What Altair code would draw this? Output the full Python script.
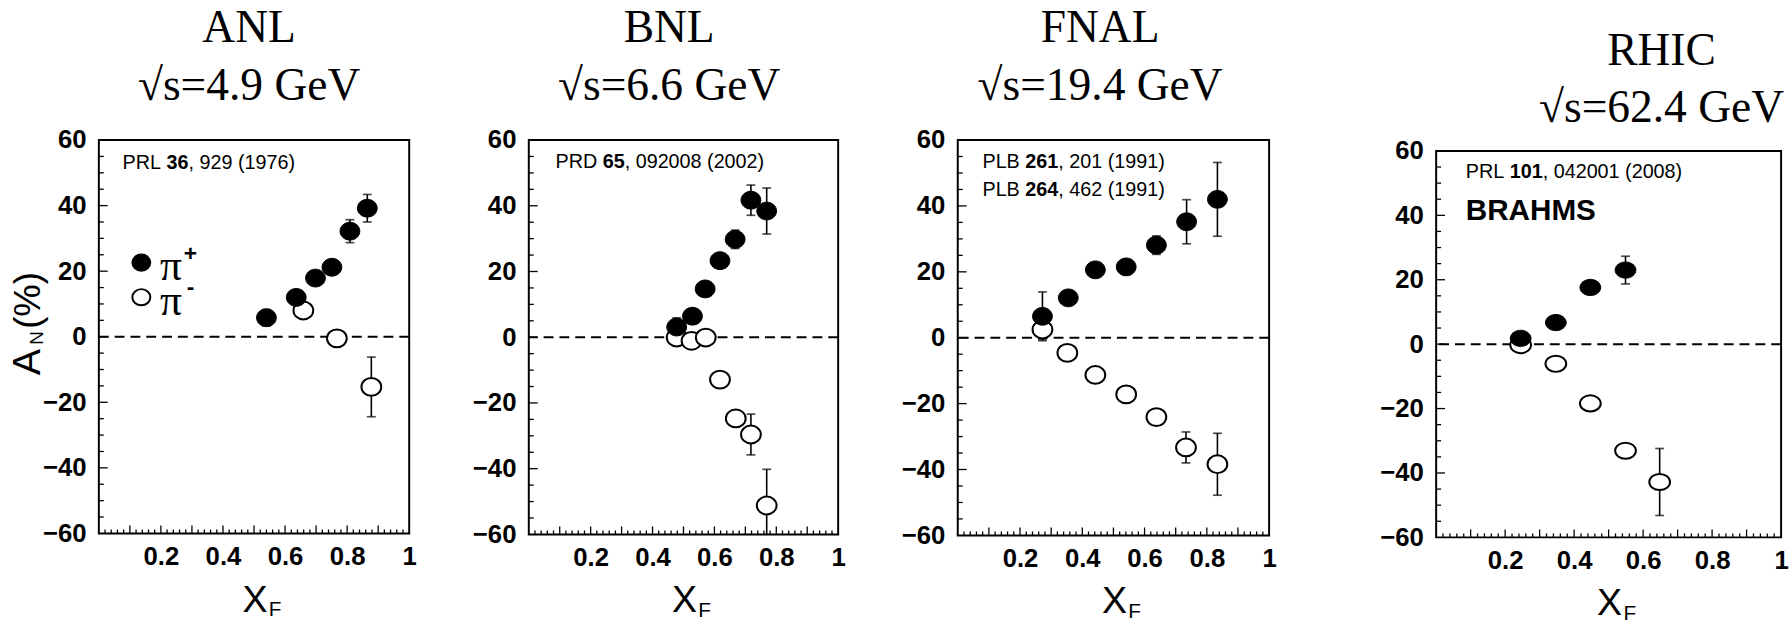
import altair as alt
import pandas as pd

# ---------------- data ----------------
# ANL  sqrt(s)=4.9 GeV
anl_pip_x = [0.540, 0.636, 0.698, 0.751, 0.809, 0.865]
anl_pip_y = [5.8, 12.0, 17.9, 21.2, 32.2, 39.2]
anl_pip_e = [2.5, 1.5, 1.5, 1.5, 3.5, 4.2]
anl_pim_x = [0.659, 0.767, 0.878]
anl_pim_y = [8.0, -0.5, -15.3]
anl_pim_e = [1.5, 1.5, 9.1]

# BNL  sqrt(s)=6.6 GeV
bnl_pip_x = [0.478, 0.529, 0.570, 0.618, 0.667, 0.718, 0.769]
bnl_pip_y = [3.1, 6.4, 14.7, 23.3, 29.8, 41.7, 38.4]
bnl_pip_e = [2.8, 1.5, 1.5, 1.5, 2.8, 4.6, 7.0]
bnl_pim_x = [0.478, 0.526, 0.572, 0.618, 0.669, 0.718, 0.769]
bnl_pim_y = [-0.1, -1.1, -0.1, -12.9, -24.7, -29.6, -51.2]
bnl_pim_e = [1.5, 1.5, 1.5, 1.5, 2.0, 6.2, 11.0]

# FNAL sqrt(s)=19.4 GeV
fnal_pip_x = [0.272, 0.355, 0.442, 0.541, 0.638, 0.735, 0.834]
fnal_pip_y = [6.5, 12.1, 20.6, 21.5, 28.1, 35.2, 42.0]
fnal_pip_e = [7.4, 1.5, 1.5, 1.5, 2.8, 6.7, 11.2]
fnal_pim_x = [0.272, 0.352, 0.442, 0.541, 0.638, 0.733, 0.834]
fnal_pim_y = [2.5, -4.6, -11.3, -17.2, -24.1, -33.3, -38.4]
fnal_pim_e = [3.0, 1.5, 1.5, 1.5, 1.5, 4.7, 9.4]

# RHIC (BRAHMS) sqrt(s)=62.4 GeV
rhic_pip_x = [0.245, 0.347, 0.447, 0.549]
rhic_pip_y = [1.8, 6.7, 17.6, 23.0]
rhic_pip_e = [1.5, 1.5, 1.5, 4.3]
rhic_pim_x = [0.245, 0.347, 0.447, 0.549, 0.648]
rhic_pim_y = [-0.3, -6.1, -18.4, -33.1, -42.8]
rhic_pim_e = [1.5, 1.5, 1.5, 1.5, 10.4]

x_labels = [0.2, 0.4, 0.6, 0.8, 1.0]
y_labels = [-60, -40, -20, 0, 20, 40, 60]
y_minor = [-55, -50, -45, -35, -30, -25, -15, -10, -5, 5, 10, 15, 25, 30, 35, 45, 50, 55]
y_major = [-40, -20, 0, 20, 40]
x_minor = [0.02, 0.04, 0.06, 0.08, 0.12, 0.14, 0.16, 0.18, 0.22, 0.24, 0.26, 0.28,
           0.32, 0.34, 0.36, 0.38, 0.42, 0.44, 0.46, 0.48, 0.52, 0.54, 0.56, 0.58,
           0.62, 0.64, 0.66, 0.68, 0.72, 0.74, 0.76, 0.78, 0.82, 0.84, 0.86, 0.88,
           0.92, 0.94, 0.96, 0.98]
x_major = [0.1, 0.2, 0.3, 0.4, 0.5, 0.6, 0.7, 0.8, 0.9]

SANS = "Liberation Sans"
SERIF = "Liberation Serif"
one = pd.DataFrame({"a": [0]})

ARIAL_W = {"P": .667, "R": .722, "L": .556, "D": .722, "B": .667,
           " ": .278, ",": .278, "(": .333, ")": .333}


def tw(s, fs):
    return sum(ARIAL_W.get(c, .556) for c in s) * fs


def ellipse(r):
    return f"M -1 0 A 1 {r} 0 1 0 1 0 A 1 {r} 0 1 0 -1 0 Z"


def text(t, x, y, fs, font=SANS, weight="normal", align="left", baseline="middle", angle=0):
    kw = dict(text=t, font=font, fontSize=fs, fontWeight=weight, align=align,
              baseline=baseline, color="black")
    if angle:
        kw["angle"] = angle
    return alt.Chart(one).mark_text(**kw).encode(x=alt.value(x), y=alt.value(y))


def ref_line(parts, x0, y0, fs=20):
    out = []
    x = x0
    for t, bold in parts:
        lead = len(t) - len(t.lstrip(" "))
        out.append(text(t.strip(), x + lead * .278 * fs, y0, fs,
                        weight="bold" if bold else "normal"))
        x += tw(t, fs)
    return out


ANCHOR_Y = -137


def panel(W, H, ytop, anchor_x, pip, pim, titles, tcx, tby, refs, ratio, msize, extra=()):
    xs = alt.Scale(domain=[0, 1], nice=False, zero=False)
    ys = alt.Scale(domain=[-60, 60], nice=False, zero=False, range=[H, ytop])
    xax = alt.Axis(values=x_labels, ticks=False, domain=False, grid=False,
                   labelExpr="datum.value == 1 ? '1' : format(datum.value, '.1f')",
                   labelFlush=False, labelPadding=10, labelFont=SANS, labelFontSize=26,
                   labelFontWeight="bold", labelColor="black")
    yax = alt.Axis(values=y_labels, ticks=False, domain=False, grid=False,
                   labelPadding=13, labelFont=SANS, labelFontSize=26,
                   labelFontWeight="bold", labelColor="black")

    def X(f):
        return alt.X(f, type="quantitative", scale=xs, axis=xax, title=None)

    def Y(f):
        return alt.Y(f, type="quantitative", scale=ys, axis=yax, title=None)

    rows = []
    for (xv, yv, ev), kind in ((pip, "p"), (pim, "m")):
        for a, b, e in zip(xv, yv, ev):
            rows.append({"x": a, "y": b, "lo": max(b - e, -60), "hi": min(b + e, 60), "k": kind})
    df = pd.DataFrame(rows)
    caps = pd.concat([df[["x", "k"]].assign(c=df["lo"]), df[["x", "k"]].assign(c=df["hi"])])
    caps = caps[caps.c > -60]

    layers = []
    # invisible anchor fixing the top-left corner of the panel's bounds
    layers.append(alt.Chart(one).mark_rule(color="white", strokeWidth=1).encode(
        x=alt.value(anchor_x), x2=alt.value(anchor_x + 1), y=alt.value(ANCHOR_Y)))
    # frame
    layers.append(alt.Chart(one).mark_rect(fillOpacity=0, stroke="black", strokeWidth=2).encode(
        x=alt.value(0), x2=alt.value(W), y=alt.value(ytop), y2=alt.value(H)))
    layers.append(alt.Chart(pd.DataFrame({"z": [0]})).mark_rule(
        strokeDash=[10, 6], strokeWidth=2, color="black").encode(y=Y("z")))
    layers.append(alt.Chart(pd.DataFrame({"v": y_minor})).mark_rule(
        color="black", strokeWidth=1.3).encode(y=Y("v"), x=alt.value(0), x2=alt.value(5)))
    layers.append(alt.Chart(pd.DataFrame({"v": y_major})).mark_rule(
        color="black", strokeWidth=1.3).encode(y=Y("v"), x=alt.value(0), x2=alt.value(9)))
    layers.append(alt.Chart(pd.DataFrame({"v": x_minor})).mark_rule(
        color="black", strokeWidth=1.3).encode(x=X("v"), y=alt.value(H), y2=alt.value(H - 4)))
    layers.append(alt.Chart(pd.DataFrame({"v": x_major})).mark_rule(
        color="black", strokeWidth=1.3).encode(x=X("v"), y=alt.value(H), y2=alt.value(H - 8)))
    layers.append(alt.Chart(df).mark_rule(color="black", strokeWidth=1.6).encode(
        x=X("x"), y=Y("lo"), y2="hi"))
    layers.append(alt.Chart(caps).mark_tick(orient="horizontal", size=9, thickness=1.7,
                                            color="black").encode(x=X("x"), y=Y("c")))
    layers.append(alt.Chart(df[df.k == "m"]).mark_point(
        shape=ellipse(ratio), size=msize, filled=True, fill="white", stroke="black",
        strokeWidth=2, opacity=1).encode(x=X("x"), y=Y("y")))
    layers.append(alt.Chart(df[df.k == "p"]).mark_point(
        shape=ellipse(ratio), size=msize, filled=True, fill="black", stroke="black",
        strokeWidth=1, opacity=1).encode(x=X("x"), y=Y("y")))
    for parts, rx, ry in refs:
        layers += ref_line(parts, rx, ytop + ry)
    layers.append(text(titles[0], tcx, tby, 46, font=SERIF, align="center", baseline="alphabetic"))
    layers.append(text(titles[1], tcx, tby + 58, 46, font=SERIF, align="center", baseline="alphabetic"))
    layers.append(text("X", W / 2 + 1, H + 79, 38, align="center", baseline="alphabetic"))
    layers.append(text("F", W / 2 + 15, H + 84, 21, align="left", baseline="alphabetic"))
    layers += list(extra)
    return alt.layer(*layers).properties(width=W, height=H)


# ---- panel 1 extras: y title and legend ----
p1_extra = [
    text("A", -60, 238, 40, baseline="alphabetic", angle=270),
    text("N", -57, 207, 19, baseline="alphabetic", angle=270),
    text("(%)", -60, 191, 37, baseline="alphabetic", angle=270),
    alt.Chart(one).mark_point(shape=ellipse(0.9), size=330, filled=True, fill="black",
                              stroke="black", opacity=1).encode(x=alt.value(43), y=alt.value(124)),
    alt.Chart(one).mark_point(shape=ellipse(0.9), size=330, filled=True, fill="white",
                              stroke="black", strokeWidth=2, opacity=1).encode(
        x=alt.value(43), y=alt.value(159)),
    text("π", 62, 142, 44, font=SERIF, baseline="alphabetic"),
    text("+", 86, 115, 23, weight="bold"),
    text("π", 62, 177, 44, font=SERIF, baseline="alphabetic"),
    text("-", 89, 149, 23, weight="bold"),
]

p1 = panel(314, 398, 0, -99, (anl_pip_x, anl_pip_y, anl_pip_e),
           (anl_pim_x, anl_pim_y, anl_pim_e), ["ANL", "√s=4.9 GeV"], 152, -99,
           [([("PRL ", False), ("36", True), (", 929 (1976)", False)], 24, 23)],
           0.9, 400, p1_extra)

p2 = panel(313, 399, 0, -60, (bnl_pip_x, bnl_pip_y, bnl_pip_e),
           (bnl_pim_x, bnl_pim_y, bnl_pim_e), ["BNL", "√s=6.6 GeV"], 142, -99,
           [([("PRD ", False), ("65", True), (", 092008 (2002)", False)], 27, 22)],
           0.9, 400)

p3 = panel(315, 400, 0, -60, (fnal_pip_x, fnal_pip_y, fnal_pip_e),
           (fnal_pim_x, fnal_pim_y, fnal_pim_e), ["FNAL", "√s=19.4 GeV"], 144, -99,
           [([("PLB ", False), ("261", True), (", 201 (1991)", False)], 25, 22),
            ([("PLB ", False), ("264", True), (", 462 (1991)", False)], 25, 51)],
           0.9, 400)

p4 = panel(349, 402, 11, -60, (rhic_pip_x, rhic_pip_y, rhic_pip_e),
           (rhic_pim_x, rhic_pim_y, rhic_pim_e), ["RHIC", "√s=62.4 GeV"], 228, -76,
           [([("PRL ", False), ("101", True), (", 042001 (2008)", False)], 30, 21)],
           0.78, 441, [text("BRAHMS", 30, 72, 30, weight="bold")])

inner = alt.hconcat(p1, p2, p3, spacing=52)
chart = (alt.hconcat(inner, p4, spacing=100)
         .properties(padding=0, background="white")
         .configure_view(strokeWidth=0, stroke="transparent"))

chart.save("out.html", embed_options={"renderer": "svg", "actions": False})
